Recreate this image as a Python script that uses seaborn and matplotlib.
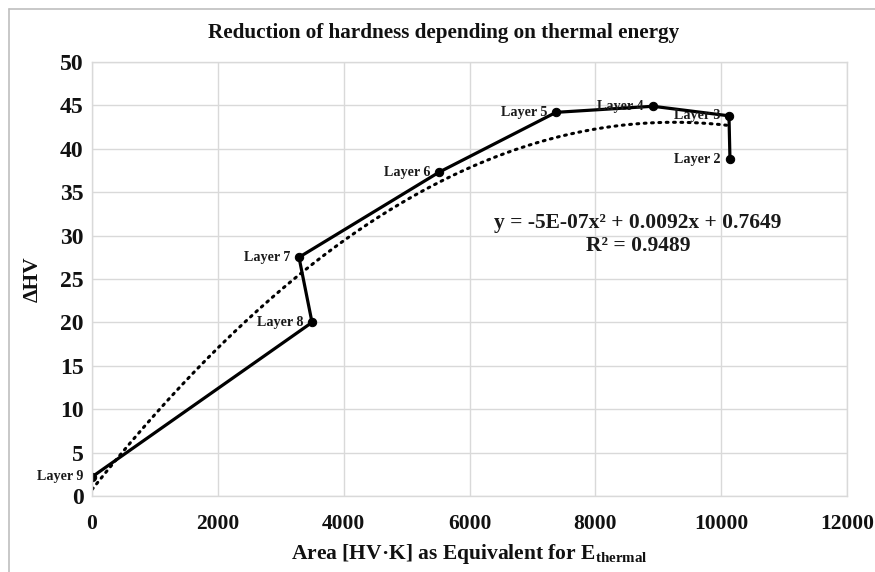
import numpy as np
import pandas as pd
import seaborn as sns
import matplotlib
matplotlib.use("Agg")
import matplotlib.pyplot as plt
from matplotlib.lines import Line2D

layers = ["Layer 9", "Layer 8", "Layer 7", "Layer 6", "Layer 5", "Layer 4", "Layer 3", "Layer 2"]
area = [0, 3497, 3290, 5515, 7375, 8916, 10124, 10140]
delta_hv = [2.2, 20.0, 27.5, 37.3, 44.2, 44.9, 43.8, 38.8]
x_ticks = [0, 2000, 4000, 6000, 8000, 10000, 12000]
y_ticks = [0, 5, 10, 15, 20, 25, 30, 35, 40, 45, 50]
equation = "y = -5E-07x² + 0.0092x + 0.7649"
r2_text = "R² = 0.9489"

sns.set_theme(style="whitegrid")
plt.rcParams["font.family"] = ["Liberation Serif", "DejaVu Serif"]
plt.rcParams["font.weight"] = "bold"
plt.rcParams["mathtext.fontset"] = "custom"
plt.rcParams["mathtext.rm"] = "Liberation Serif:bold"
plt.rcParams["mathtext.bf"] = "Liberation Serif:bold"
plt.rcParams["mathtext.it"] = "Liberation Serif:bold"

df = pd.DataFrame({"layer": layers, "area": area, "dhv": delta_hv})

fig = plt.figure(figsize=(8.75, 5.72), dpi=100)
ax = fig.add_axes([92 / 875, 1 - 496 / 572, (847 - 92) / 875, (496 - 62) / 572])

# trendline (2nd order polynomial fit)
coef = np.polyfit(df["area"], df["dhv"], 2)
xs = np.linspace(0, max(area), 300)
trend = pd.DataFrame({"x": xs, "y": np.polyval(coef, xs)})
sns.lineplot(data=trend, x="x", y="y", ax=ax, color="black", linewidth=2.2,
             linestyle=(0, (0.6, 1.8)), dash_capstyle="round")

sns.lineplot(data=df, x="area", y="dhv", sort=False, ax=ax, color="black",
             linewidth=2.3, marker="o", markersize=6, markeredgecolor="black",
             markerfacecolor="black")

for lab, xv, yv in zip(layers, area, delta_hv):
    ax.annotate(lab, (xv, yv), xytext=(-9, 0), textcoords="offset pixels",
                ha="right", va="center", fontsize=10.2, fontweight="bold",
                color="#1a1a1a")

ax.text(0.723, 0.603, equation + "\n" + r2_text, transform=ax.transAxes,
        ha="center", va="center", fontsize=15.5, fontweight="bold",
        linespacing=1.2, color="#1a1a1a")

ax.set_xlim(0, 12000)
ax.set_ylim(0, 50)
ax.set_xticks(x_ticks)
ax.set_yticks(y_ticks)
ax.set_xticklabels([str(t) for t in x_ticks])
ax.set_yticklabels([str(t) for t in y_ticks])
ax.tick_params(axis="x", labelsize=15.5, pad=13, length=0)
ax.tick_params(axis="y", labelsize=17, pad=6, length=0)
for t in ax.get_xticklabels() + ax.get_yticklabels():
    t.set_fontweight("bold")
    t.set_color("#111111")

ax.grid(True, color="#d9d9d9", linewidth=1.0)
for s in ax.spines.values():
    s.set_color("#d9d9d9")
    s.set_linewidth(1.0)

ax.set_xlabel("Area [HV·K] as Equivalent for E$_{\\mathrm{thermal}}$",
              fontsize=15.5, fontweight="bold", labelpad=6, color="#111111")
ax.set_ylabel("ΔHV", fontsize=15.5, fontweight="bold", labelpad=12, color="#111111")
fig.text(444 / 875, 1 - 33 / 572, "Reduction of hardness depending on thermal energy",
         ha="center", va="center", fontsize=15.2, fontweight="bold", color="#111111")

# chart-area border (top and left)
fig.add_artist(Line2D([9 / 875, 1], [1 - 9 / 572, 1 - 9 / 572], transform=fig.transFigure,
                      color="#bfbfbf", linewidth=1.2))
fig.add_artist(Line2D([9 / 875, 9 / 875], [0, 1 - 9 / 572], transform=fig.transFigure,
                      color="#bfbfbf", linewidth=1.2))

fig.savefig("out.png", dpi=100)
